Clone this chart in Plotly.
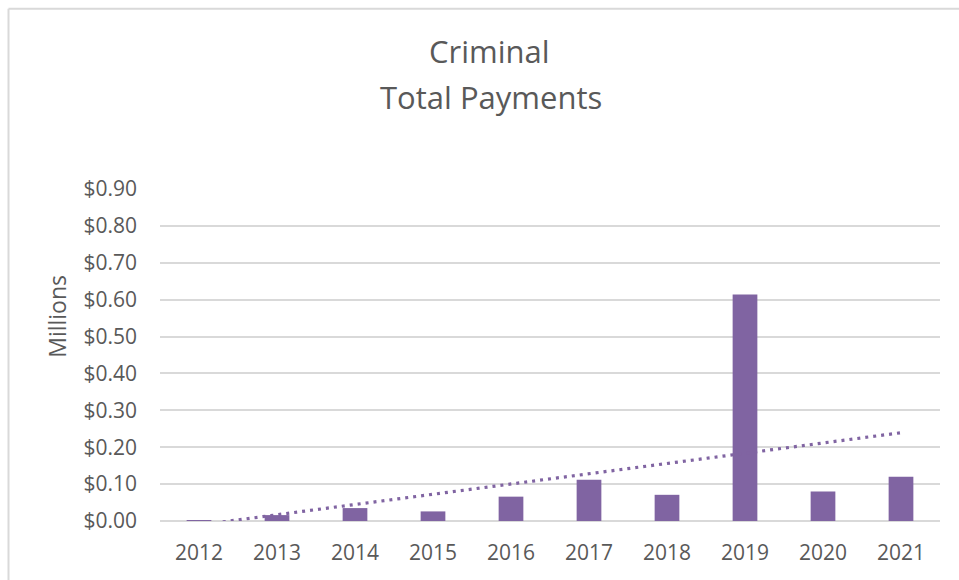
import numpy as np
import plotly.graph_objects as go

# Yearly criminal payments, in millions of dollars
years = ["2012", "2013", "2014", "2015", "2016", "2017", "2018", "2019", "2020", "2021"]
payments = [0.002, 0.016, 0.035, 0.026, 0.066, 0.112, 0.071, 0.614, 0.080, 0.120]
y_ticks = [0.0, 0.1, 0.2, 0.3, 0.4, 0.5, 0.6, 0.7, 0.8, 0.9]
y_tick_labels = ["$%.2f" % v for v in y_ticks]

BAR = "#8064A2"
TEXT = "#595959"
GRID = "#D9D9D9"
FONT = "Open Sans"

# Linear trend fitted over the year index, evaluated at the first and last year
idx = np.arange(len(years))
slope, intercept = np.polyfit(idx, payments, 1)
trend_x = [years[0], years[-1]]
trend_y = [intercept + slope * idx[0], intercept + slope * idx[-1]]

fig = go.Figure()
fig.add_trace(go.Bar(
    x=years, y=payments, marker=dict(color=BAR, line=dict(width=0)),
    showlegend=False, hoverinfo="x+y",
))
fig.add_trace(go.Scatter(
    x=trend_x, y=trend_y, mode="lines",
    line=dict(color=BAR, width=3.2, dash="3px,5px"),
    showlegend=False, hoverinfo="skip",
))

W, H = 959, 580
L, R, T, B = 160, 19, 189, 58.5
pw, ph = W - L - R, H - T - B

def px_x(x):
    return (x - L) / pw

def px_y(y):
    return (H - B - y) / ph

annotations = [
    dict(text="Criminal", x=px_x(489), y=px_y(51), xref="paper", yref="paper",
         showarrow=False, xanchor="center", yanchor="middle",
         font=dict(family=FONT, size=31, color=TEXT)),
    dict(text="Total Payments", x=px_x(491), y=px_y(97), xref="paper", yref="paper",
         showarrow=False, xanchor="center", yanchor="middle",
         font=dict(family=FONT, size=31, color=TEXT)),
    dict(text="Millions", x=px_x(57), y=px_y(317), xref="paper", yref="paper",
         showarrow=False, xanchor="center", yanchor="middle", textangle=-90,
         font=dict(family=FONT, size=23, color=TEXT)),
]

# Light chart frame along the left and top edges
shapes = [
    dict(type="line", xref="paper", yref="paper",
         x0=px_x(8.5), x1=px_x(8.5), y0=px_y(8.5), y1=px_y(H + 5),
         line=dict(color=GRID, width=2)),
    dict(type="line", xref="paper", yref="paper",
         x0=px_x(8.5), x1=px_x(W + 5), y0=px_y(8.5), y1=px_y(8.5),
         line=dict(color=GRID, width=2)),
]

fig.update_layout(
    width=W, height=H,
    margin=dict(l=L, r=R, t=T, b=B, pad=0),
    paper_bgcolor="white", plot_bgcolor="white",
    bargap=0.683,
    annotations=annotations,
    shapes=shapes,
    font=dict(family=FONT, color=TEXT),
)
fig.update_xaxes(
    type="category", showgrid=False, zeroline=False, showline=False,
    ticks="", tickfont=dict(family=FONT, size=21, color=TEXT),
    ticklabelstandoff=17,
)
fig.update_yaxes(
    range=[0, 0.9], tickvals=y_ticks, ticktext=y_tick_labels,
    showgrid=True, gridcolor=GRID, gridwidth=2,
    zeroline=True, zerolinecolor=GRID, zerolinewidth=2,
    showline=False, ticks="",
    tickfont=dict(family=FONT, size=21, color=TEXT),
    ticklabelstandoff=22,
)

fig.write_html("out.html")
